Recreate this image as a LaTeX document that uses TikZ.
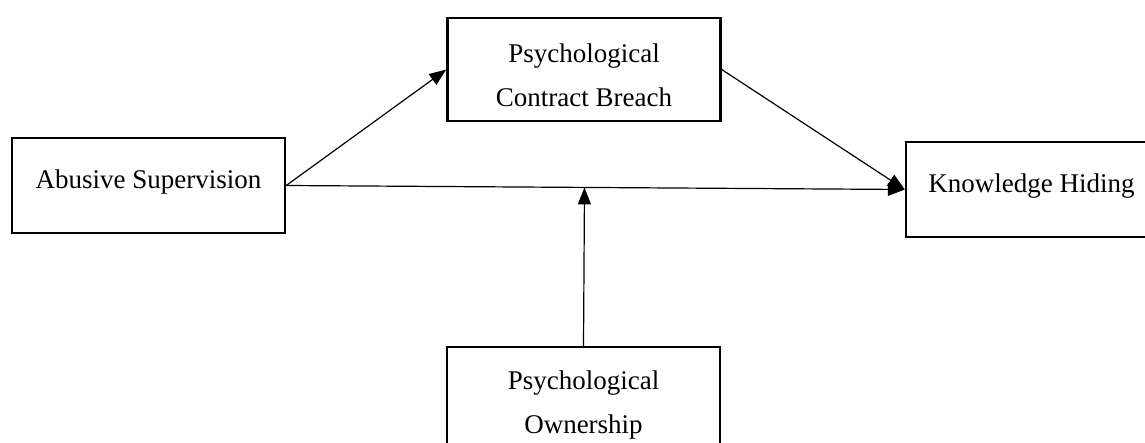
\documentclass[tikz,border=0pt]{standalone}
\usepackage{fontspec}
\setmainfont{Liberation Serif}
\usetikzlibrary{positioning,calc,arrows.meta}

\begin{document}
\begin{tikzpicture}[x=0.5pt,y=-0.5pt,
    box/.style={draw, line width=1.2pt, minimum width=136.5pt, inner sep=2pt, align=center, font=\fontsize{13.5}{22}\selectfont},
    single/.style={box, minimum height=47.5pt, text depth=6.5pt},
    double/.style={box, minimum height=51.5pt, text height=37.5pt},
    arr/.style={-{Triangle[length=8.5pt,width=6.5pt]}, line width=0.6pt}]
    \useasboundingbox (0,0) rectangle (1145,443);
    \clip (0,0) rectangle (1145,443);
    \node[single] (abuse) at (148.5,185.5) {Abusive Supervision};
    \node[double] (breach) at (584,69.5) {Psychological\\Contract Breach};
    \node[single, minimum width=125.5pt] (hiding) at (1031.5,189.5) {Knowledge Hiding};
    \node[double] (ownership) at (583.5,398.5) {Psychological\\Ownership};
    \coordinate (moderator) at ($(abuse.east)!(ownership.north)!(hiding.west)$);
    \draw[arr] (abuse.east) -- (breach.west);
    \draw[arr] (breach.east) -- (hiding.west);
    \draw[arr] (abuse.east) -- (hiding.west);
    \draw[arr] (ownership.north) -- (moderator);
\end{tikzpicture}
\end{document}
